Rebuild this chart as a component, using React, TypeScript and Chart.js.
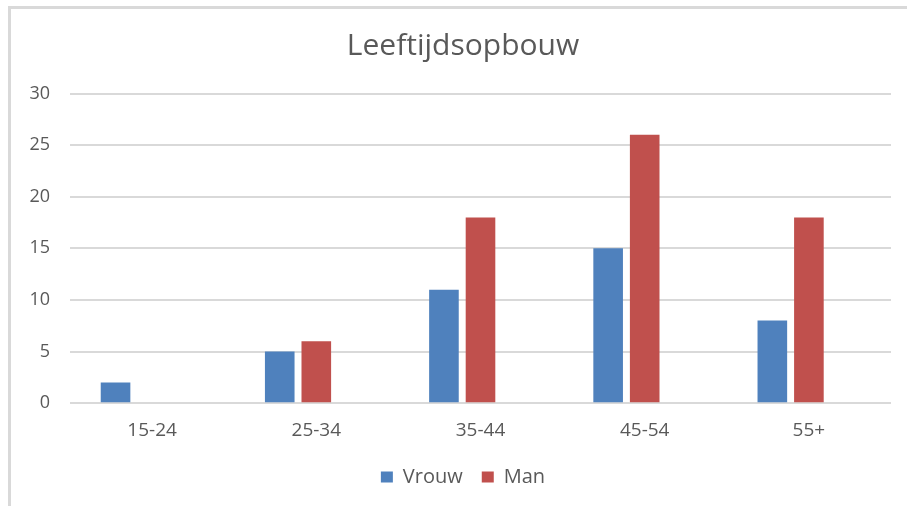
import React, { useEffect, useRef } from "react";
import { Chart, registerables } from "chart.js";

Chart.register(...registerables);

const categories = ["15-24", "25-34", "35-44", "45-54", "55+"];
const vrouw = [2, 5, 11, 15, 8];
const man = [0, 6, 18, 26, 18];
const leeg: (number | null)[] = [null, null, null, null, null];
const seriesNames = ["Vrouw", "Man", ""];
const chartTitle = "Leeftijdsopbouw";

const FONT = "'Open Sans', 'Segoe UI', sans-serif";
const TEXT = "#595959";

export default function App() {
  const ref = useRef<HTMLCanvasElement | null>(null);

  useEffect(() => {
    if (!ref.current) return;
    const chart = new Chart(ref.current, {
      type: "bar",
      data: {
        labels: categories,
        datasets: [
          { label: seriesNames[0], data: vrouw, backgroundColor: "#4F81BD", yAxisID: "y" },
          { label: seriesNames[1], data: man, backgroundColor: "#C0504D", yAxisID: "y" },
          { label: seriesNames[2], data: leeg, backgroundColor: "#9BBB59", yAxisID: "y" },
        ],
      },
      options: {
        animation: false,
        responsive: false,
        maintainAspectRatio: false,
        layout: { padding: { left: 0, right: 0, top: 0, bottom: 9 } },
        datasets: {
          bar: { categoryPercentage: 0.668, barPercentage: 0.81 },
        },
        plugins: {
          title: {
            display: true,
            text: chartTitle,
            color: TEXT,
            font: { family: FONT, size: 30, weight: "normal" },
            padding: { top: 28, bottom: 29.5 },
          },
          legend: {
            position: "bottom",
            labels: {
              color: TEXT,
              font: { family: FONT, size: 20 },
              boxWidth: 12,
              boxHeight: 11,
              padding: 19,
              filter: (item) => (item.datasetIndex ?? 0) < 2,
            },
          },
          tooltip: { enabled: false },
        },
        scales: {
          x: {
            grid: { display: false, drawTicks: false },
            border: { display: false },
            afterFit: (scale) => {
              scale.height = scale.height - 10;
            },
            ticks: {
              color: TEXT,
              font: { family: FONT, size: 19 },
              padding: 16,
            },
          },
          y: {
            min: 0,
            max: 30,
            afterFit: (scale) => {
              scale.width = 70;
            },
            grid: { color: "#d9d9d9", lineWidth: 2, drawTicks: false },
            border: { display: false },
            ticks: {
              stepSize: 5,
              color: TEXT,
              font: { family: FONT, size: 18 },
              padding: 20,
            },
          },
          y2: {
            position: "right",
            display: true,
            min: 0,
            max: 30,
            grid: { display: false, drawTicks: false },
            border: { display: false },
            ticks: { display: false },
            afterFit: (scale) => {
              scale.width = 35;
            },
          },
        },
      },
    });
    return () => chart.destroy();
  }, []);

  return (
    <div style={{ position: "fixed", left: 0, top: 0, width: 907, height: 506, overflow: "hidden", background: "#fff" }}>
      <style>{"html,body{margin:0;overflow:hidden;}"}</style>
      <canvas ref={ref} width={926} height={506} style={{ position: "absolute", left: 0, top: 0, width: 926, height: 506 }} />
      <div
        style={{
          position: "absolute",
          left: 8,
          top: 6,
          width: 1200,
          height: 800,
          borderLeft: "3px solid #d9d9d9",
          borderTop: "3px solid #d9d9d9",
          pointerEvents: "none",
        }}
      />
    </div>
  );
}
